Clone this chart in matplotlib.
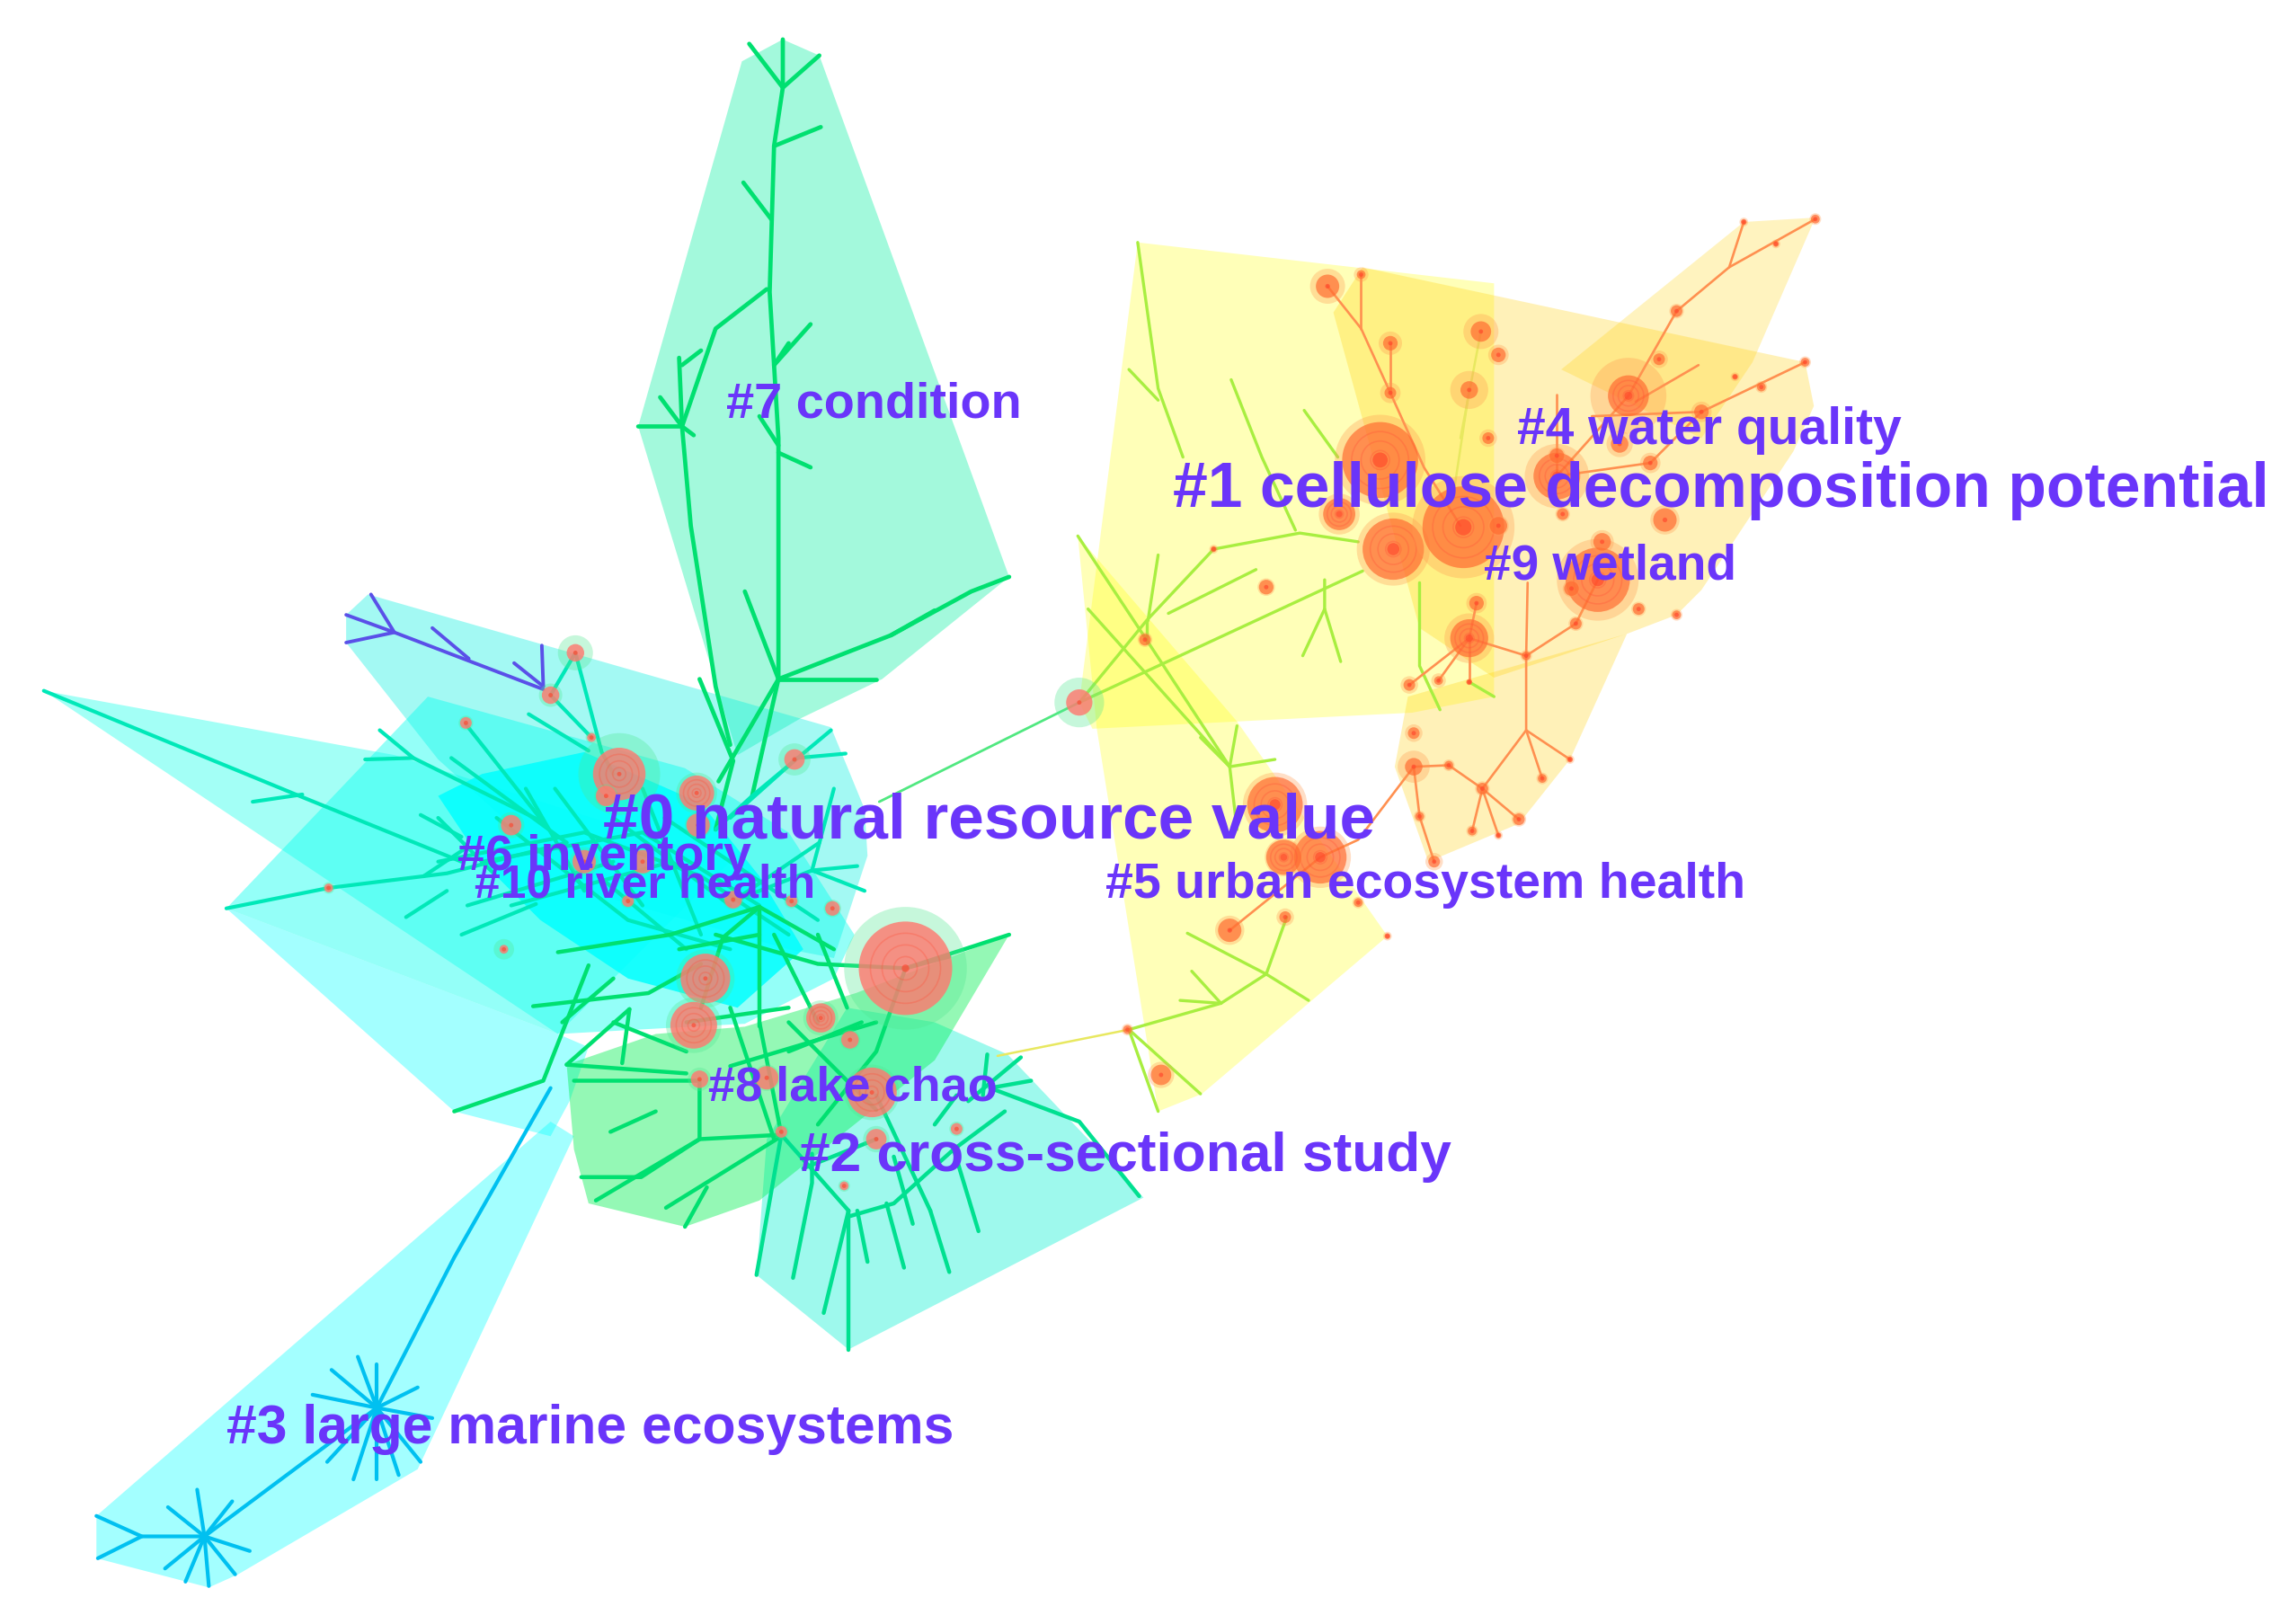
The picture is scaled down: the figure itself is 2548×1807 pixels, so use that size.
import matplotlib
matplotlib.use("Agg")
import matplotlib.pyplot as plt
from matplotlib.patches import Polygon, Circle
from matplotlib.collections import LineCollection

# ---- cluster hulls (picture coordinates) ----
hull_upper = [(252,407),(237,421),(237,440),(300,520),(400,610),(540,650),(571,656),(594,586),(592,554),(569,498)]
hull_core = [(293,477),(155,622),(382,708),(510,701),(571,670),(585,640),(540,570),(469,526)]
hull_wedge = [(30,473),(270,517),(500,590),(382,708)]
hull_lower_left = [(155,622),(311,761),(377,778),(390,754),(403,717),(382,708)]
hull_dense = [(300,545),(330,530),(400,515),(480,550),(520,600),(550,650),(505,690),(430,670),(370,630),(330,590)]
hull_marine = [(66,1038),(66,1067),(143,1087),(163,1078),(286,1006),(393,778),(377,768)]
hull_green = [(388,729),(449,708),(510,703),(586,680),(691,640),(640,726),(520,822),(469,840),(403,824),(393,787)]
hull_lower = [(518,873),(581,924),(783,820),(690,722),(640,700),(580,690),(525,780)]
hull_seven = [(536,27),(561,38),(691,395),(604,465),(548,492),(505,517),(464,381),(437,292),(508,42)]
hull_y1 = [(779,166),(1023,194),(1023,477),(967,488),(748,499),(739,481)]
hull_y5 = [(738,367),(751,499),(793,761),(823,749),(950,641),(847,494)]
hull_o1 = [(913,214),(933,183),(1236,248),(1242,278),(1228,309),(1165,404),(1148,421),(1114,434),(1023,464),(972,430)]
hull_o2 = [(1194,152),(1243,149),(1200,248),(1165,300),(1069,253)]
hull_o3 = [(964,477),(1114,434),(1075,520),(1040,564),(978,590),(955,525)]

# ---- links, by colour group ----
links_seven = [
 [(536,27),(536,60),(530,100),(527,200),(533,300),(533,465)],
 [(513,30),(536,60),(561,38)],[(530,100),(562,87)],[(509,125),(528,150)],
 [(525,198),(490,225),(467,292),(473,360),(490,470),(500,510)],
 [(437,292),(467,292),(475,298)],[(452,272),(467,292),(465,245)],[(467,250),(480,240)],
 [(530,250),(555,222)],[(530,250),(540,235)],[(520,285),(533,305)],[(533,310),(555,320)],
 [(533,465),(600,465)],[(533,465),(610,435),(665,405),(691,395)],[(610,435),(640,418)],
 [(510,405),(533,465),(515,545)],[(533,465),(492,535)],[(479,465),(502,521),(490,568)],
]
links_purple = [
 [(237,421),(270,433),(372,472)],[(254,407),(270,433),(237,440)],
 [(296,430),(321,451)],[(352,454),(372,470)],[(371,442),(372,470)],
]
links_core = [
 [(30,473),(205,545),(316,590)],[(173,549),(207,544)],[(288,558),(316,573)],
 [(155,622),(225,608),(306,598),(388,577)],[(278,628),(306,610)],[(316,640),(367,619)],
 [(260,500),(283,519),(372,563)],[(250,520),(283,519)],[(309,519),(388,577)],
 [(319,496),(372,563)],[(362,489),(403,514)],[(377,476),(394,447),(412,515),(420,530)],
 [(377,476),(405,505)],[(569,500),(515,545),(490,568)],[(579,516),(546,519),(500,560)],
 [(571,540),(556,596),(502,617)],[(561,577),(502,617)],[(592,610),(556,596)],[(587,593),(556,596)],
 [(300,590),(400,570),(480,600),(540,640)],[(340,560),(430,630),(500,650)],[(330,590),(440,570),(520,620)],
 [(380,540),(440,620)],[(350,620),(460,590)],[(420,560),(500,620)],[(290,600),(320,580)],[(300,560),(340,600)],
 [(360,540),(400,610)],[(440,540),(480,640)],[(410,600),(470,650)],[(455,560),(560,630)],[(320,620),(420,590)],
]
links_central = [
 [(382,652),(459,640),(520,621),(571,650)],[(520,621),(520,703)],[(520,621),(495,642),(480,690)],
 [(365,689),(444,680),(480,660)],[(403,661),(372,740),(311,761)],[(431,691),(388,729)],
 [(431,691),(426,728)],[(385,700),(420,670)],[(490,640),(560,660),(620,663)],[(530,640),(560,700)],
 [(620,663),(691,640)],[(620,663),(650,655)],[(620,663),(600,720),(560,770)],[(540,720),(590,700)],
 [(388,729),(470,735)],[(393,740),(479,740),(479,780),(408,822)],[(418,775),(449,761)],
 [(398,806),(439,806),(479,780),(535,777)],[(456,827),(535,778)],[(469,840),(484,813)],
 [(500,730),(600,700)],[(520,700),(535,777)],[(500,690),(530,780)],[(540,700),(600,760)],[(560,640),(580,690)],
 [(465,650),(520,640)],[(470,700),(540,690)],[(420,700),(470,720)],
]
links_lower = [
 [(535,777),(518,873)],[(556,790),(556,810),(543,875)],[(581,829),(564,899)],[(581,829),(581,924)],
 [(587,829),(594,864)],[(607,824),(619,868)],[(637,829),(650,871)],[(653,787),(670,843)],
 [(612,792),(625,838)],[(581,833),(612,824),(653,787),(688,761)],[(678,745),(706,740)],
 [(676,722),(673,750)],[(699,724),(663,754)],[(678,745),(739,768),(780,819)],[(535,777),(581,829)],
 [(600,750),(637,829)],[(550,800),(600,780)],[(640,770),(655,750)],
]
links_marine = [
 [(377,745),(311,861),(258,964)],[(258,964),(227,938)],[(258,964),(245,929)],[(258,964),(258,934)],
 [(258,964),(286,950)],[(258,964),(214,955)],[(258,964),(224,1001)],[(258,964),(242,1013)],
 [(258,964),(258,1013)],[(258,964),(273,1010)],[(258,964),(288,1001)],[(258,964),(296,971)],
 [(140,1052),(135,1020)],[(140,1052),(115,1032)],[(140,1052),(159,1028)],[(140,1052),(171,1062)],
 [(140,1052),(161,1078)],[(140,1052),(143,1086)],[(140,1052),(127,1083)],[(140,1052),(113,1074)],
 [(140,1052),(97,1052),(66,1038)],[(97,1052),(67,1067)],[(140,1052),(258,964)],
]
links_yellowgreen = [
 [(779,166),(793,266),(810,313)],[(773,253),(793,274)],[(843,260),(864,313),(887,363)],[(893,281),(916,313)],
 [(739,481),(785,425),(831,376),(890,365),(930,371)],[(739,481),(933,391)],[(907,397),(907,417),(892,449)],
 [(907,417),(918,453)],[(972,399),(972,456),(986,486)],[(1006,467),(1023,477)],[(738,367),(785,438),(842,525),(847,568)],
 [(745,417),(842,525)],[(847,497),(842,525)],[(873,520),(842,525)],[(822,505),(842,525)],[(813,639),(867,667),(896,685)],
 [(867,667),(881,628)],[(867,667),(836,687),(773,705)],[(816,665),(836,687)],[(808,685),(836,687)],
 [(773,705),(822,749)],[(773,705),(793,761)],[(785,425),(785,440)],[(800,420),(860,390)],[(793,380),(786,425)],
]
links_pale = [[(773,705),(683,723)],[(1006,267),(995,340)],[(1014,227),(1000,300)]]
links_bridge = [[(739,481),(602,549)]]
links_orange = [
 [(909,196),(932,225),(952,269),(975,320),(1000,360)],[(932,188),(932,225)],[(952,235),(952,269)],
 [(1243,150),(1184,183),(1148,213),(1115,271)],[(1194,152),(1184,183)],[(1236,248),(1165,282),(1130,317)],
 [(1163,250),(1120,275)],[(1165,282),(1090,285)],[(1045,449),(1045,500),(1015,540)],[(1045,449),(1046,399)],
 [(1045,500),(1075,520)],[(1045,500),(1056,533)],[(1015,540),(1008,569)],[(1015,540),(1026,572)],
 [(1015,540),(1040,561)],[(1015,540),(992,524),(968,525),(930,575),(904,587)],[(1006,437),(1045,449),(1079,427),(1094,397)],
 [(1006,437),(985,466)],[(1006,437),(965,469)],[(1006,437),(1006,467)],[(972,559),(982,590)],[(968,525),(972,559)],
 [(1066,326),(1115,271)],[(1066,270),(1066,326)],[(1011,413),(1006,437)],[(904,587),(842,637)],[(1130,317),(1066,326)],
]

# ---- citation nodes: x, y, radius ----
nodes_green_x = [620,424,477,544,350,319,483,475,562,582,597,600,535,479,525,345,225,578,655,570,502,430,542,400,415,478,440,394,377,739,405]
nodes_green_y = [663,530,543,520,565,495,670,702,697,712,748,780,775,739,738,650,608,812,773,622,616,617,617,590,545,565,590,447,476,481,505]
nodes_green_r = [32,18,12,7,7,4,17,16,10,6,17,7,4,6,8,3,3,3,4,5,6,4,4,8,7,8,8,6,6,9,3]
nodes_green_h = [42,28,14,11,9,5,20,19,12,7,19,9,5,8,9,7,4,4,5,6,7,5,5,10,8,9,9,12,8,17,4]
nodes_red_x = [909,932,952,952,1014,1006,1026,1019,945,917,954,1002,1026,1094,1097,1076,1115,1136,1148,1216,1243,1194,1236,1206,1188,1165,1130,1109,1066,1066,1070,1140,1122,1148,1079,1011,1006,1045,965,985,1006,968,968,992,1015,1075,1056,1040,1026,1008,972,982,784,831,867,873,904,879,842,880,772,795,950,930]
nodes_red_y = [196,188,235,269,227,267,243,300,315,352,376,361,360,397,371,403,271,246,213,167,150,152,248,265,258,282,317,304,326,312,352,356,417,421,427,413,437,449,469,466,467,502,525,524,540,520,533,561,572,569,559,590,438,376,402,551,587,587,637,628,705,736,641,618]
nodes_red_r = [8,3,5,4,7,6,5,4,26,11,21,28,6,22,6,5,14,4,4,2,3,2,3,3,2,5,5,6,16,5,4,8,4,3,4,5,13,3,4,3,2,4,6,3,4,2,3,4,2,3,3,4,4,2,5,19,18,12,8,4,3,7,2,3]
nodes_red_h = [12,5,8,7,12,13,7,6,31,14,25,35,7,28,8,6,26,6,5,3,4,3,4,4,3,7,7,9,22,6,5,10,5,4,5,7,17,4,6,5,2,6,11,4,5,3,4,5,3,4,4,6,5,3,6,22,21,13,10,6,4,9,3,4]
# ---- cluster labels ----
labels = ["#0 natural resource value","#1 cellulose decomposition potential","#2 cross-sectional study",
          "#3 large marine ecosystems","#4 water quality","#5 urban ecosystem health","#6 inventory",
          "#7 condition","#8 lake chao","#9 wetland","#10 river health"]
label_x = [413,803,547,155,1039,757,313,497,485,1016,325]
label_y = [563,336,792,979,295,606,587,277,745,388,606]
label_pt = [51.3,50.1,44.8,43.7,41,40,40,40.2,39,39.6,37.2]

fig = plt.figure(figsize=(25.48,18.07),dpi=100)
ax = fig.add_axes([0,0,1,1])
ax.set_xlim(0,1568); ax.set_ylim(1112,0); ax.axis("off")

def hull(p,c,a):
    ax.add_patch(Polygon(p,closed=True,fc=c,alpha=a,ec="none",zorder=1))
hull(hull_y1,"#ffff00",.28); hull(hull_y5,"#ffff00",.28)
hull(hull_o1,"#ffd000",.28); hull(hull_o2,"#ffd000",.25); hull(hull_o3,"#ffd000",.28)
hull(hull_seven,"#00f0a0",.36)
hull(hull_upper,"#00f0e0",.36); hull(hull_wedge,"#00ffe8",.36)
hull(hull_core,"#00fff0",.42); hull(hull_lower_left,"#00ffff",.36)
hull(hull_dense,"#00ffff",.85); hull(hull_marine,"#00ffff",.36)
hull(hull_lower,"#00f0d0",.38); hull(hull_green,"#00f050",.42)

def links(seg,c,lw):
    ax.add_collection(LineCollection(seg,colors=c,linewidths=lw,zorder=2,capstyle="round"))
links(links_seven,"#00e070",3.4)
links(links_purple,"#5a50e8",2.8)
links(links_core,"#00e8b8",3.0)
links(links_central,"#00e070",3.2)
links(links_lower,"#00e090",3.2)
links(links_marine,"#00c0f0",3.0)
links(links_yellowgreen,"#a8ee40",2.4)
links(links_pale,"#e8e860",1.8)
links(links_bridge,"#50e880",2.0)
links(links_orange,"#ff9050",1.9)

def node(x,y,r,h,halo,body,alpha,dot):
    ax.add_patch(Circle((x,y),h,fc=halo,alpha=.32,ec="none",zorder=3))
    ax.add_patch(Circle((x,y),r,fc=body,alpha=alpha,ec="none",zorder=3))
    if r>=10:
        for k in (.75,.5,.25):
            ax.add_patch(Circle((x,y),r*k,fc="none",ec="#ff5038",alpha=.3,lw=1.2,zorder=3))
    ax.add_patch(Circle((x,y),max(1.5,r*dot),fc="#ff4028",alpha=.6,ec="none",zorder=3))
for x,y,r,h in zip(nodes_green_x,nodes_green_y,nodes_green_r,nodes_green_h):
    node(x,y,r,h,"#50e890","#ff7a70",.82,.08)
for x,y,r,h in zip(nodes_red_x,nodes_red_y,nodes_red_r,nodes_red_h):
    node(x,y,r,h,"#ff9a50","#ff6a30",.68,.2)

for s,x,y,p in zip(labels,label_x,label_y,label_pt):
    ax.text(x,y,s,fontsize=p,fontweight="bold",family="Liberation Sans",color="#6a35fa",
            ha="left",va="center",zorder=5)
fig.savefig("out.png",dpi=100,facecolor="white")
